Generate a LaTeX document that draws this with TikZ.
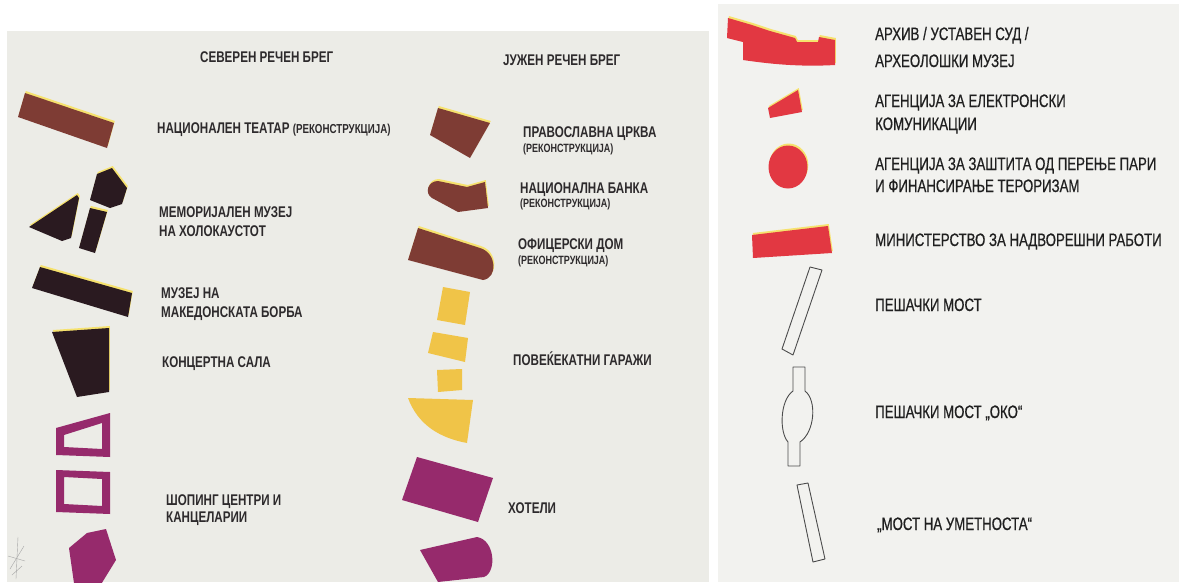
\documentclass[tikz,border=0pt]{standalone}
\usepackage{fontspec}
\setmainfont{Liberation Sans}
\newfontfamily\lblfont[FakeStretch=0.75]{Liberation Sans}
\newfontfamily\legfont[FakeStretch=0.735, FakeBold=0.6]{Liberation Sans}

\definecolor{panelL}{RGB}{236,236,231}
\definecolor{panelR}{RGB}{242,242,239}
\definecolor{bldbrown}{RGB}{126,60,52}
\definecolor{blddark}{RGB}{42,26,32}
\definecolor{bldmag}{RGB}{150,42,108}
\definecolor{bldyel}{RGB}{240,196,72}
\definecolor{bldred}{RGB}{226,56,66}
\definecolor{hilite}{RGB}{246,226,110}
\definecolor{txt}{RGB}{45,42,44}

\begin{document}
\begin{tikzpicture}[x=1pt, y=-1pt,
	lbl/.style={anchor=base west, inner sep=0pt, text=txt, font=\lblfont\bfseries\fontsize{15.5}{17}\selectfont},
	sublbl/.style={anchor=base west, inner sep=0pt, text=txt, font=\lblfont\bfseries\fontsize{12}{13}\selectfont},
	leg/.style={anchor=base west, inner sep=0pt, text=black!88, font=\legfont\fontsize{18}{20}\selectfont},
	lit/.style={preaction={fill=hilite, transform canvas={shift={(0.8pt,2pt)}}}},
	bridge/.style={draw=black!70, line width=0.9pt, line join=round},
	pencil/.style={draw=black!35, line width=0.4pt}]
	\fill[white] (0,0) rectangle (1179,582);
	\useasboundingbox (0,0) rectangle (1179,582);
	\fill[panelL] (7,31) rectangle (709,582);
	\fill[panelR] (718,4) rectangle (1179,582);

	\node[lbl] (north) at (200,62) {СЕВЕРЕН РЕЧЕН БРЕГ};
	\node[lbl] (south) at (503,65) {ЈУЖЕН РЕЧЕН БРЕГ};

	% north bank
	\begin{scope}
		\clip (7,31) rectangle (709,582);
		\fill[bldbrown, lit] (25,93) -- (114,123) -- (107,148) -- (18,117) -- cycle;
		\fill[blddark, lit] (97,174) -- (112,168) -- (127,188) -- (122,204) -- (110,208) -- (90,200) -- cycle;
		\fill[blddark, lit] (29,227) -- (77,195) -- (79,198) -- (71,238) -- (62,241) -- cycle;
		\fill[blddark, lit] (90,208) -- (107,212) -- (95,253) -- (79,248) -- cycle;
		\fill[blddark, lit] (40,267) -- (132,293) -- (128,317) -- (32,288) -- cycle;
		\fill[blddark, lit] (52,332) -- (109,328) -- (109,392) -- (77,397) -- cycle;
		\fill[bldmag, even odd rule] (56,428) -- (110,413) -- (110,457) -- (56,455) -- cycle
			(64,435) -- (102,423) -- (102,449) -- (64,447) -- cycle;
		\fill[bldmag, even odd rule] (56,470) -- (110,472) -- (110,514) -- (56,512) -- cycle
			(64,477) -- (102,479) -- (102,506) -- (64,504) -- cycle;
		\fill[bldmag] (69,548) -- (87,533) -- (106,529) -- (116,560) -- (100,586) -- (75,590) -- cycle;
		\draw[pencil] (18,537) -- (16,579);
		\draw[pencil] (8,556) -- (25,561);
		\draw[pencil] (10,569) -- (24,546);
		\draw[pencil] (12,575) -- (22,566);
	\end{scope}

	\node[lbl] (teatar) at (157,133) {НАЦИОНАЛЕН ТЕАТАР {\fontsize{13}{14}\selectfont(РЕКОНСТРУКЦИЈА)}};
	\node[lbl] (holo1) at (159,217) {МЕМОРИЈАЛЕН МУЗЕЈ};
	\node[lbl] (holo2) at (159,236) {НА ХОЛОКАУСТОТ};
	\node[lbl] (borba1) at (161,298) {МУЗЕЈ НА};
	\node[lbl] (borba2) at (161,317) {МАКЕДОНСКАТА БОРБА};
	\node[lbl] (sala) at (162,367) {КОНЦЕРТНА САЛА};
	\node[lbl] (shop1) at (166,505) {ШОПИНГ ЦЕНТРИ И};
	\node[lbl] (shop2) at (166,522) {КАНЦЕЛАРИИ};

	% south bank
	\begin{scope}
		\clip (7,31) rectangle (709,582);
		\fill[bldbrown, lit] (438,108) -- (490,123) -- (470,158) -- (430,135) -- cycle;
		\fill[bldbrown, lit] (438,181) -- (467,187) -- (485,182) -- (488,208) -- (458,212) -- (432,198)
			.. controls (424,193) and (428,181) .. (438,181) -- cycle;
		\fill[bldbrown, lit] (418,228) -- (480,248) .. controls (497,253) and (498,278) .. (483,280) -- (408,260) -- cycle;
		\fill[bldyel] (443,287) -- (470,292) -- (465,325) -- (437,320) -- cycle;
		\fill[bldyel] (433,332) -- (468,338) -- (465,362) -- (428,353) -- cycle;
		\fill[bldyel] (437,370) -- (462,369) -- (462,390) -- (438,392) -- cycle;
		\fill[bldyel] (408,398) -- (473,400) -- (467,443) .. controls (440,438) and (418,425) .. (408,398) -- cycle;
		\fill[bldmag] (417,457) -- (493,478) -- (478,522) -- (402,500) -- cycle;
		\fill[bldmag] (420,550) -- (477,537) .. controls (495,540) and (497,572) .. (484,577) -- (438,582) -- cycle;
	\end{scope}

	\node[lbl] (crkva) at (523,137) {ПРАВОСЛАВНА ЦРКВА};
	\node[sublbl] (crkvaR) at (523,152) {(РЕКОНСТРУКЦИЈА)};
	\node[lbl] (banka) at (520,193) {НАЦИОНАЛНА БАНКА};
	\node[sublbl] (bankaR) at (520,207) {(РЕКОНСТРУКЦИЈА)};
	\node[lbl] (dom) at (518,249) {ОФИЦЕРСКИ ДОМ};
	\node[sublbl] (domR) at (518,264) {(РЕКОНСТРУКЦИЈА)};
	\node[lbl] (garazi) at (513,365) {ПОВЕЌЕКАТНИ ГАРАЖИ};
	\node[lbl] (hoteli) at (508,513) {ХОТЕЛИ};

	% right legend
	\fill[bldred, lit] (728,18) -- (752,25) -- (770,31) -- (795,38) -- (797,42) -- (818,42) -- (819,37) -- (835,40)
		-- (835,65) .. controls (800,67) and (770,64) .. (743,60) -- (743,42) -- (727,38) -- cycle;
	\fill[bldred, lit] (768,108) -- (798,90) -- (802,112) -- (770,118) -- cycle;
	\fill[bldred, lit] (788,167) ellipse [x radius=19.5, y radius=21.5];
	\fill[bldred, lit] (752,235) -- (828,226) -- (832,253) -- (753,258) -- cycle;
	\draw[bridge] (810,267) -- (822,270) -- (793,355) -- (782,349) -- cycle;
	\draw[bridge] (793,367) -- (805,367) -- (805,391) .. controls (817,400) and (815,432) .. (800,442)
		-- (800,466) -- (788,466) -- (788,442) .. controls (779,432) and (780,400) .. (793,391) -- cycle;
	\draw[bridge] (797,485) -- (808,483) -- (825,559) -- (813,562) -- cycle;

	\node[leg] (arhiv1) at (875,40) {АРХИВ / УСТАВЕН СУД /};
	\node[leg] (arhiv2) at (875,67) {АРХЕОЛОШКИ МУЗЕЈ};
	\node[leg] (aek1) at (875,107) {АГЕНЦИЈА ЗА ЕЛЕКТРОНСКИ};
	\node[leg] (aek2) at (875,130) {КОМУНИКАЦИИ};
	\node[leg] (upsp1) at (875,170) {АГЕНЦИЈА ЗА ЗАШТИТА ОД ПЕРЕЊЕ ПАРИ};
	\node[leg] (upsp2) at (875,192) {И ФИНАНСИРАЊЕ ТЕРОРИЗАМ};
	\node[leg] (mnr) at (875,246) {МИНИСТЕРСТВО ЗА НАДВОРЕШНИ РАБОТИ};
	\node[leg] (most1) at (875,311) {ПЕШАЧКИ МОСТ};
	\node[leg] (most2) at (875,418) {ПЕШАЧКИ МОСТ „ОКО“};
	\node[leg] (most3) at (877,530) {„МОСТ НА УМЕТНОСТА“};
\end{tikzpicture}
\end{document}
